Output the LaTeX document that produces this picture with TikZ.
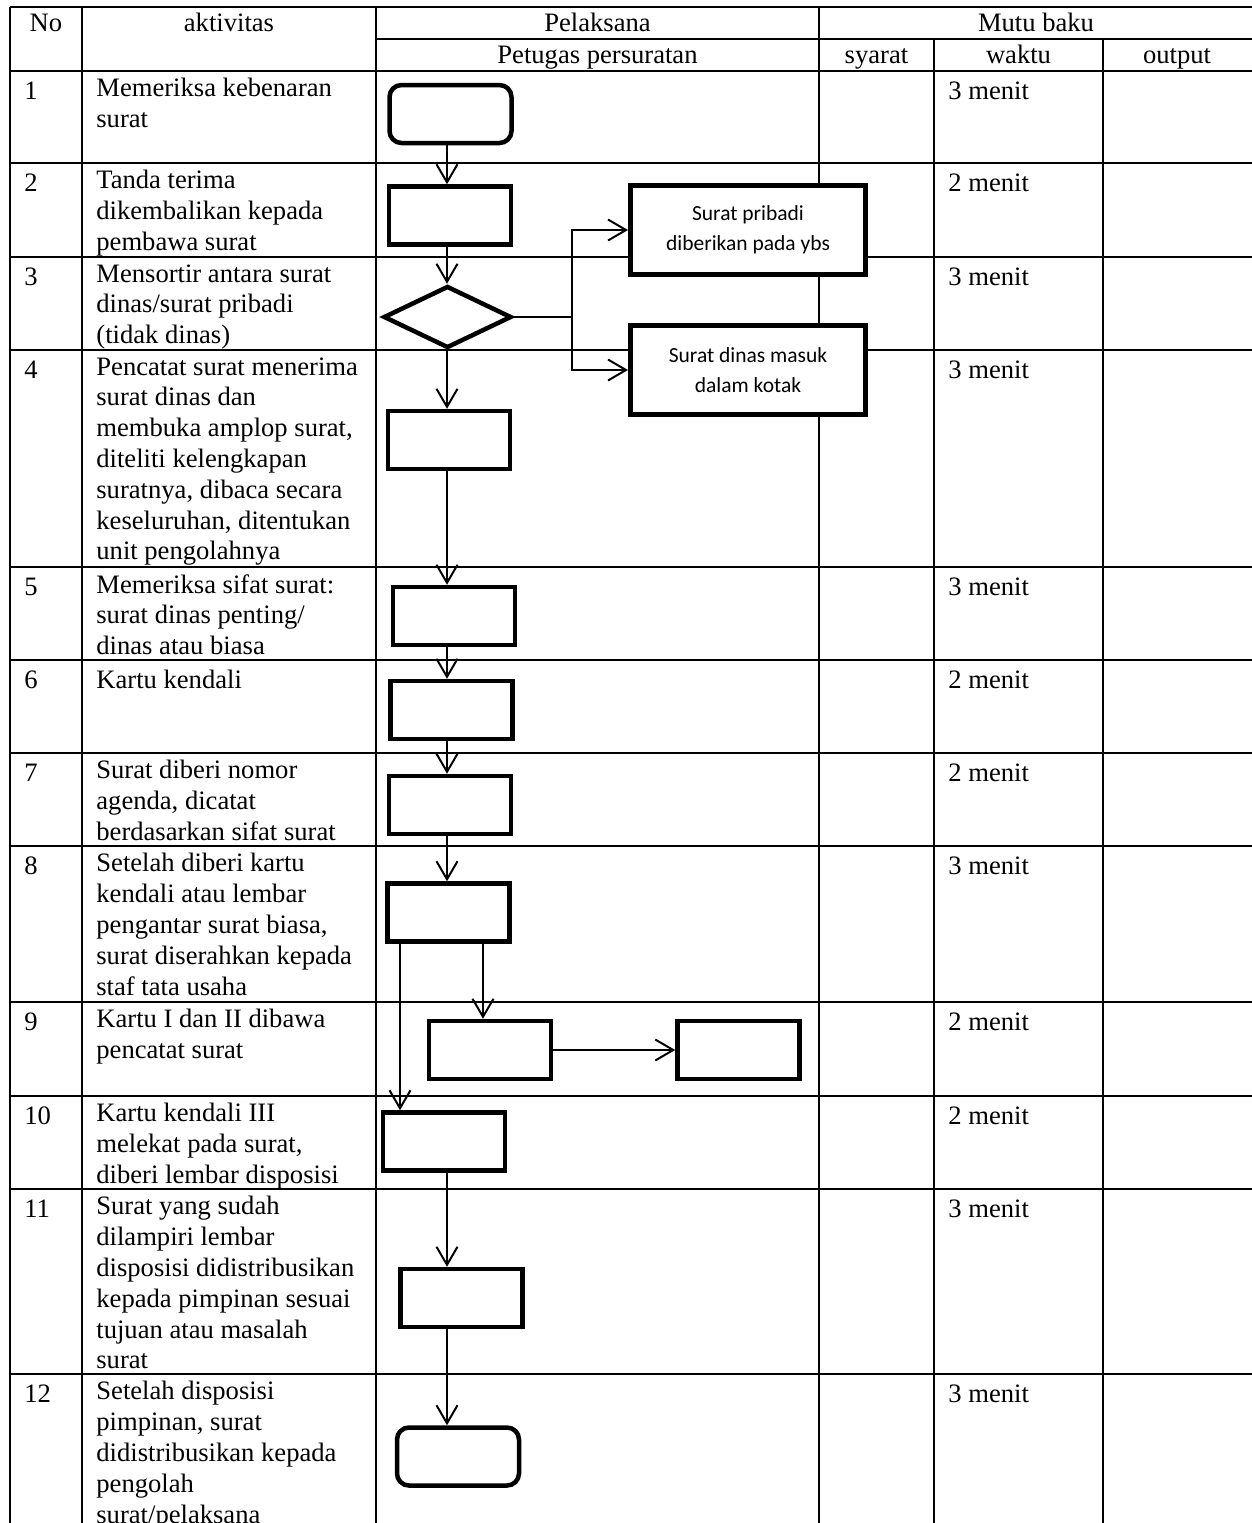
\documentclass[tikz,border=0pt]{standalone}
\usepackage{fontspec}
\setmainfont{Liberation Serif}
\newfontfamily\boxfont{Carlito}
\usetikzlibrary{arrows.meta,shapes.geometric}
\newcommand\tabfont{\fontsize{13.3pt}{15.4pt}\selectfont}
\newcommand\bxfont{\boxfont\fontsize{10.75pt}{15pt}\selectfont}
\begin{document}
\begin{tikzpicture}[x=0.5pt,y=-0.5pt,
  grid/.style={line width=1pt},
  txt/.style={anchor=north west, inner sep=0pt, align=left, font=\tabfont, execute at begin node=\strut},
  hdr/.style={anchor=base, inner sep=0pt, font=\tabfont},
  stepbox/.style={draw, rectangle, fill=white, line width=2.25pt, minimum width=61pt, minimum height=29pt, inner sep=0pt},
  termbox/.style={stepbox, rounded corners=6pt},
  decbox/.style={draw, diamond, fill=white, line width=2.25pt, minimum width=64pt, minimum height=31pt, inner sep=0pt},
  sidebox/.style={draw, rectangle, fill=white, line width=2.5pt, minimum width=117.5pt, minimum height=44.5pt, inner sep=0pt, align=center, font=\bxfont},
  arr/.style={line width=1pt, -{Straight Barb[length=9pt,width=10.5pt]}}
]
\useasboundingbox (0,0) rectangle (1252,1523);
\fill[white] (0,0) rectangle (1252,1523);
% ---- table grid ----
\draw[grid] (10,7) -- (1252,7);
\draw[grid] (376,39) -- (1252,39);
\foreach \yy in {71,163,257,350,567,660,753,846,1002,1096,1189,1374}
  \draw[grid] (10,\yy) -- (1252,\yy);
\foreach \xx in {10,82,376,819}
  \draw[grid] (\xx,7) -- (\xx,1523);
\foreach \xx in {934,1103}
  \draw[grid] (\xx,39) -- (\xx,1523);
% ---- header ----
\node[hdr] (hNo) at (46,31) {No};
\node[hdr] (hAkt) at (229,31) {aktivitas};
\node[hdr] (hPel) at (597.5,31) {Pelaksana};
\node[hdr] (hMutu) at (1036,31) {Mutu baku};
\node[hdr] (hPet) at (597.5,63) {Petugas persuratan};
\node[hdr] (hSya) at (876.5,63) {syarat};
\node[hdr] (hWak) at (1018.5,63) {waktu};
\node[hdr] (hOut) at (1177,63) {output};
% ---- numbers and times ----
\foreach \i/\y/\w in {1/78/3,2/170/2,3/264/3,4/357/3,5/574/3,6/667/2,7/760/2,8/853/3,9/1009/2,10/1103/2,11/1196/3,12/1381/3}{
  \node[txt] (no\i) at (24,\y) {\i};
  \node[txt] (w\i) at (948,\y) {\w\ menit};
}
% ---- activities ----
\node[txt] (a1) at (96,78) {Memeriksa kebenaran\\surat};
\node[txt] (a2) at (96,170) {Tanda terima\\dikembalikan kepada\\pembawa surat};
\node[txt] (a3) at (96,264) {Mensortir antara surat\\dinas/surat pribadi\\(tidak dinas)};
\node[txt] (a4) at (96,357) {Pencatat surat menerima\\surat dinas dan\\membuka amplop surat,\\diteliti kelengkapan\\suratnya, dibaca secara\\keseluruhan, ditentukan\\unit pengolahnya};
\node[txt] (a5) at (96,574) {Memeriksa sifat surat:\\surat dinas penting/\\dinas atau biasa};
\node[txt] (a6) at (96,667) {Kartu kendali};
\node[txt] (a7) at (96,760) {Surat diberi nomor\\agenda, dicatat\\berdasarkan sifat surat};
\node[txt] (a8) at (96,853) {Setelah diberi kartu\\kendali atau lembar\\pengantar surat biasa,\\surat diserahkan kepada\\staf tata usaha};
\node[txt] (a9) at (96,1009) {Kartu I dan II dibawa\\pencatat surat};
\node[txt] (a10) at (96,1103) {Kartu kendali III\\melekat pada surat,\\diberi lembar disposisi};
\node[txt] (a11) at (96,1196) {Surat yang sudah\\dilampiri lembar\\disposisi didistribusikan\\kepada pimpinan sesuai\\tujuan atau masalah\\surat};
\node[txt] (a12) at (96,1381) {Setelah disposisi\\pimpinan, surat\\didistribusikan kepada\\pengolah\\surat/pelaksana};
% ---- flow shapes ----
\node[termbox] (s1) at (450.5,114) {};
\node[stepbox] (s2) at (450,215.5) {};
\node[decbox] (d3) at (447.5,317) {};
\node[sidebox] (bp) at (748,230) {Surat pribadi\\diberikan pada ybs};
\node[sidebox] (bd) at (748,370) {Surat dinas masuk\\dalam kotak};
\node[stepbox] (s4) at (449,440) {};
\node[stepbox] (s5) at (454,616) {};
\node[stepbox] (s6) at (451.5,710) {};
\node[stepbox] (s7) at (450,805) {};
\node[stepbox] (s8) at (448.5,912.5) {};
\node[stepbox] (s9) at (490,1050) {};
\node[stepbox] (s9b) at (738.5,1050) {};
\node[stepbox] (s10) at (444,1141.5) {};
\node[stepbox] (s11) at (461.5,1298) {};
\node[termbox] (s12) at (458,1456.5) {};
% ---- connectors ----
\coordinate (spine) at (447,0);
\coordinate (splitx) at (572,0);
\coordinate (leftx) at (400,0);
\coordinate (rightx) at (483,0);
\coordinate (split) at (d3.east -| splitx);
\draw[arr] (s1.south -| spine) -- (s2.north -| spine);
\draw[arr] (s2.south -| spine) -- (d3.north -| spine);
\draw[line width=1pt] (d3.east) -- (split);
\draw[arr] (split) |- (bp.west);
\draw[arr] (split) |- (bd.west);
\draw[arr] (d3.south -| spine) -- (s4.north -| spine);
\draw[arr] (s4.south -| spine) -- (s5.north -| spine);
\draw[arr] (s5.south -| spine) -- (s6.north -| spine);
\draw[arr] (s6.south -| spine) -- (s7.north -| spine);
\draw[arr] (s7.south -| spine) -- (s8.north -| spine);
\draw[arr] (s8.south -| rightx) -- (s9.north -| rightx);
\draw[arr] (s8.south -| leftx) -- (s10.north -| leftx);
\draw[arr] (s9.east) -- (s9b.west);
\draw[arr] (s10.south -| spine) -- (s11.north -| spine);
\draw[arr] (s11.south -| spine) -- (s12.north -| spine);
\end{tikzpicture}
\end{document}
